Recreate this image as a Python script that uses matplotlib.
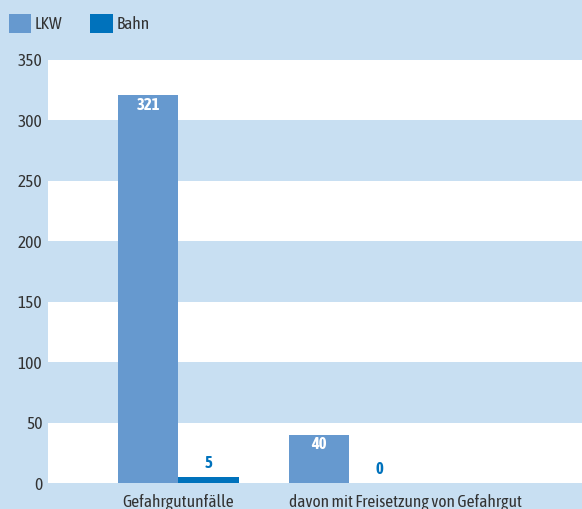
import numpy as np
import matplotlib
matplotlib.use("Agg")
import matplotlib.pyplot as plt
from matplotlib import font_manager

# Data
categories = ["Gefahrgutunfälle", "davon mit Freisetzung von Gefahrgut"]
lkw = [321, 40]
bahn = [5, 0]
series_names = ["LKW", "Bahn"]
yticks = [0, 50, 100, 150, 200, 250, 300, 350]

bg = "#c8dff2"
c_lkw = "#6699cf"
c_bahn = "#0072bc"
txt = "#333333"

# look for a narrow/condensed face, the original uses a condensed grotesk
cands = {}
for f in font_manager.fontManager.ttflist:
    n = f.name.lower()
    if ("narrow" in n or "condensed" in n) and "mono" not in n and "serif" not in n:
        w = f.weight if isinstance(f.weight, int) else (700 if "bold" in str(f.weight) else 400)
        cands.setdefault(f.name, set()).add(w)
narrow = None
for name, ws in cands.items():
    if max(ws) >= 600:
        narrow = name
        break
if narrow is None and cands:
    narrow = list(cands)[0]
plt.rcParams["font.family"] = [narrow or "Liberation Sans", "DejaVu Sans"]

fig = plt.figure(figsize=(5.82, 5.09), dpi=100, facecolor=bg)
ax = fig.add_axes([48 / 582, 26 / 509, 534 / 582, 423 / 509])
ax.set_facecolor(bg)

# white bands
for lo in yticks[::2]:
    ax.axhspan(lo, lo + 50, color="white", zorder=0, lw=0)

x = np.arange(len(categories))
w = 0.354
ax.bar(x - w / 2, lkw, w, color=c_lkw, zorder=2, label=series_names[0])
ax.bar(x + w / 2, bahn, w, color=c_bahn, zorder=2, label=series_names[1])

# value labels
for xi, v in zip(x, lkw):
    ax.text(xi - w / 2, v - 1.5, str(v), ha="center", va="top", color="white",
            fontsize=12, fontweight="bold", zorder=3)
for xi, v in zip(x, bahn):
    ax.text(xi + w / 2, v + 5, str(v), ha="center", va="bottom", color=c_bahn,
            fontsize=12, fontweight="bold", zorder=3)

ax.set_xlim(-0.763, 2.36)
ax.set_ylim(0, 350)
ax.set_yticks(yticks)
ax.set_xticks([0, 1.325])
ax.set_xticklabels(categories)
ax.tick_params(axis="both", length=0, labelsize=12.5, colors=txt)
ax.tick_params(axis="y", pad=4)
ax.tick_params(axis="x", pad=8)
for s in ax.spines.values():
    s.set_visible(False)

fig.legend(loc="upper left", bbox_to_anchor=(-0.012, 1.003), ncol=2, frameon=False,
           handlelength=1.3, handleheight=1.3, handletextpad=0.2,
           columnspacing=1.6, fontsize=12.5, labelcolor=txt)

fig.savefig("out.png", dpi=100, facecolor=bg)
